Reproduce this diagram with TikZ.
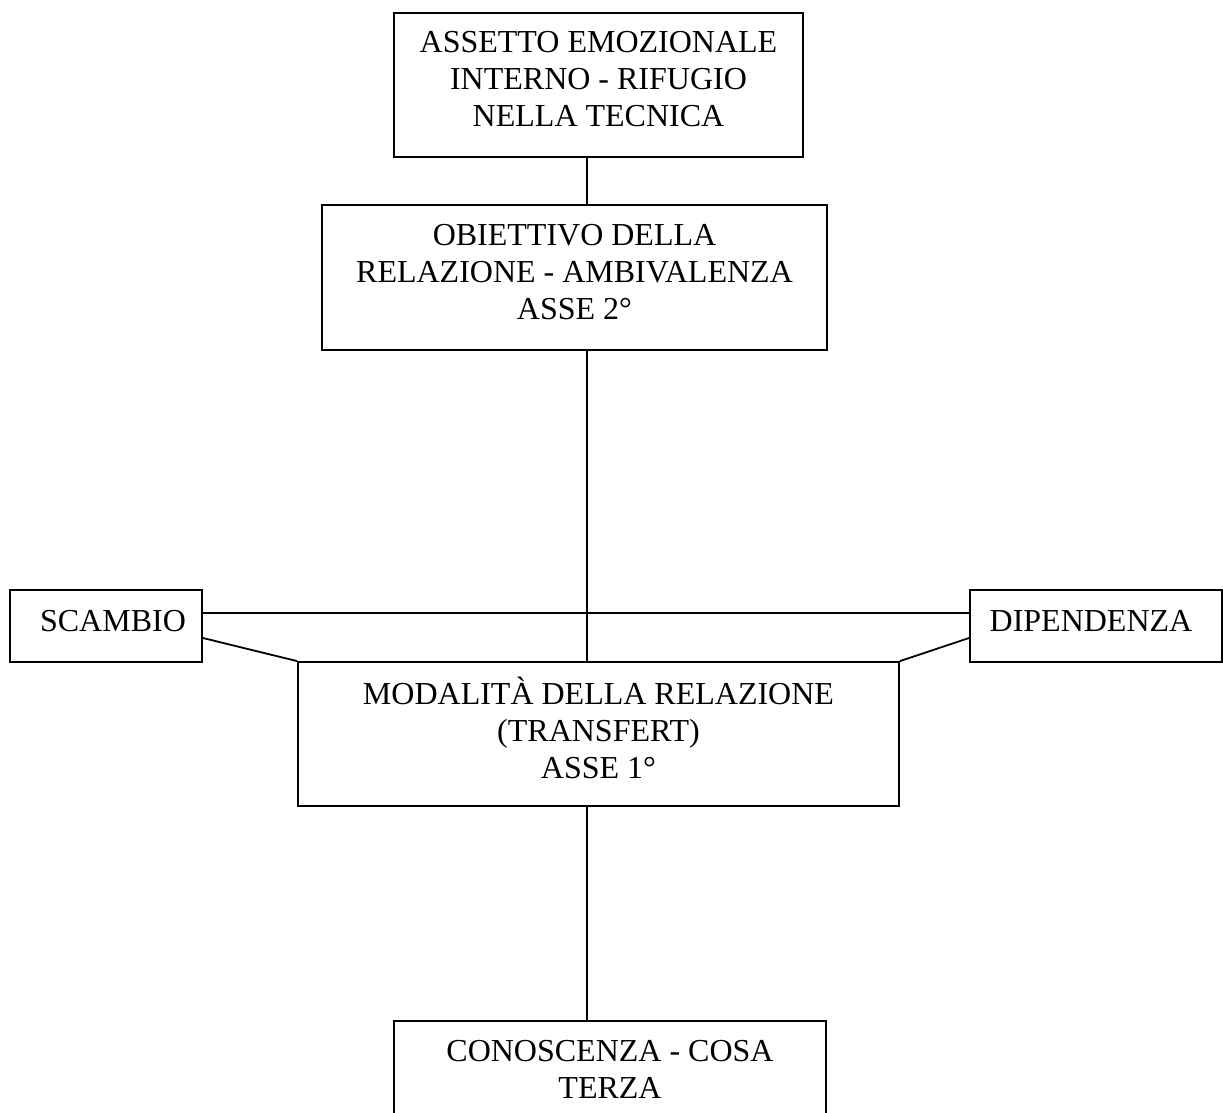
\documentclass[tikz,border=0pt]{standalone}
\usepackage{fontspec}
\setmainfont{Liberation Serif}
\begin{document}
\begin{tikzpicture}[x=0.5pt,y=-0.5pt,
  box/.style={draw, line width=0.9pt, inner sep=0pt, align=center, font=\fontsize{16}{18.5}\selectfont},
  tribox/.style={box, text depth=6pt},
  conn/.style={line width=0.9pt},
  lbl/.style={inner sep=0pt, align=center, font=\fontsize{16}{18.5}\selectfont}]
\useasboundingbox (0,0) rectangle (1223,1113);
\clip (0,0) rectangle (1223,1113);
\coordinate (spine) at (587,0);
\coordinate (hl) at (0,613);
\coordinate (dg) at (0,638);
\node[tribox, minimum width=204.5pt, minimum height=72pt] (assetto) at (598.5,85)
  {ASSETTO EMOZIONALE\\INTERNO - RIFUGIO\\NELLA TECNICA};
\node[tribox, minimum width=252.5pt, minimum height=72.5pt] (obiettivo) at (574.5,277.5)
  {OBIETTIVO DELLA\\RELAZIONE - AMBIVALENZA\\ASSE 2°};
\node[tribox, minimum width=300.5pt, minimum height=72pt] (modalita) at (598.5,734)
  {MODALITÀ DELLA RELAZIONE\\(TRANSFERT)\\ASSE 1°};
\node[box, minimum width=96pt, minimum height=36pt] (scambio) at (106,626) {};
\node[lbl] (scambiotxt) at (113,621) {SCAMBIO};
\node[box, minimum width=126pt, minimum height=36pt] (dipendenza) at (1096,626) {};
\node[lbl] (dipendenzatxt) at (1091,621) {DIPENDENZA};
\node[box, minimum width=216pt, minimum height=100pt] (conoscenza) at (610,1121) {};
\node[lbl] (conoscenzatxt) at (610,1069) {CONOSCENZA - COSA\\TERZA};
\draw[conn] (assetto.south -| spine) -- (obiettivo.north -| spine);
\draw[conn] (obiettivo.south -| spine) -- (modalita.north -| spine);
\draw[conn] (modalita.south -| spine) -- (conoscenza.north -| spine);
\draw[conn] (scambio.east |- hl) -- (dipendenza.west |- hl);
\draw[conn] (scambio.east |- dg) -- (modalita.north west);
\draw[conn] (dipendenza.west |- dg) -- (modalita.north east);
\end{tikzpicture}
\end{document}
